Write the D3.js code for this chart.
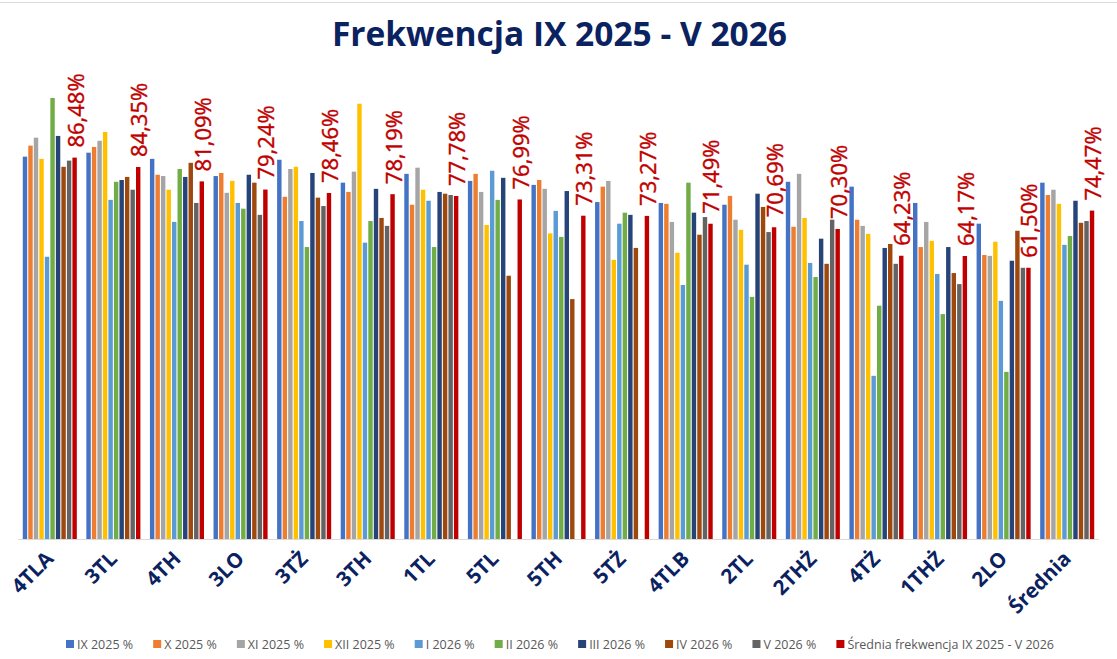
<!DOCTYPE html>
<html>
<head>
<meta charset="utf-8">
<script src="https://cdn.jsdelivr.net/npm/d3@7"></script>
<style>
  body { margin: 0; background: #fff; }
  svg { display: block; }
</style>
</head>
<body>
<div id="content"></div>
<script>
// class names along the x axis
const categories = ["4TLA","3TL","4TH","3LO","3TŻ","3TH","1TL","5TL","5TH","5TŻ","4TLB","2TL","2THŻ","4TŻ","1THŻ","2LO","Średnia"];

const seriesNames = ["IX 2025 %","X 2025 %","XI 2025 %","XII 2025 %","I 2026 %","II 2026 %","III 2026 %","IV 2026 %","V 2026 %","Średnia frekwencja IX 2025 - V 2026"];
const seriesColors = ["#4472C4","#ED7D31","#A5A5A5","#FFC000","#5B9BD5","#70AD47","#264478","#9E480E","#636363","#C00000"];

// monthly attendance (%), one value per class
const ix   = [86.7,87.6,86.2,82.3,86.0,80.8,82.8,81.2,80.3,76.4,76.2,75.8,81.0,79.9,76.2,71.5,80.8];
const x    = [89.2,88.9,82.6,83.0,77.6,78.7,75.8,82.8,81.4,79.9,76.0,77.8,70.8,72.4,66.2,64.4,78.0];
const xi   = [91.0,90.3,82.3,78.5,83.9,83.3,84.2,78.7,79.4,81.2,71.9,72.4,82.8,71.0,71.9,64.2,79.2];
const xii  = [86.2,92.3,79.2,81.2,84.4,98.7,79.2,71.2,69.3,63.3,64.9,70.1,72.8,69.2,67.6,67.4,76.0];
const i26  = [64.0,76.9,71.9,76.2,72.1,67.2,76.7,83.5,74.4,71.5,57.6,62.2,62.6,37.0,60.1,54.0,66.7];
const ii26 = [100.0,81.0,83.9,74.9,66.2,72.1,66.2,76.9,68.5,74.0,80.8,54.9,59.4,52.9,51.0,37.9,68.7];
const iii26= [91.4,81.4,82.1,82.6,83.0,79.4,78.7,81.9,78.9,73.5,74.0,78.3,68.1,66.0,66.2,63.1,76.7];
const iv26 = [84.4,82.1,85.3,80.8,77.4,72.8,78.3,59.7,54.4,66.0,69.0,75.3,62.4,66.9,60.3,69.9,71.7];
const v26  = [85.8,79.2,76.2,73.5,75.5,71.0,78.0,null,null,null,73.0,69.6,72.4,62.4,57.8,61.5,72.1];
const avg  = [86.48,84.35,81.09,79.24,78.46,78.19,77.78,76.99,73.31,73.27,71.49,70.69,70.30,64.23,64.17,61.50,74.47];

const seriesValues = [ix, x, xi, xii, i26, ii26, iii26, iv26, v26, avg];

//////////////////// drawing area
const W = 1117, H = 659;
const plot = { left: 18, right: 1099, top: 98, bottom: 539 };

const x0 = d3.scaleBand()
    .domain(categories)
    .range([plot.left, plot.right])
    .paddingInner(0.15)
    .paddingOuter(0.075);

const x1 = d3.scaleBand()
    .domain(d3.range(seriesNames.length))
    .range([0, x0.bandwidth()])
    .paddingInner(0.2);

const y = d3.scaleLinear()
    .domain([0, 100])
    .range([plot.bottom, plot.top]);

const plFormat = d3.formatLocale({ decimal: ",", thousands: " ", grouping: [3], currency: ["", " zł"] })
    .format(".2f");

const svg = d3.select("#content")
    .append("svg")
    .attr("width", W)
    .attr("height", H);

svg.append("rect")
    .attr("width", W)
    .attr("height", H)
    .attr("fill", "#fff");

// thin frame line on top
svg.append("line")
    .attr("x1", 0).attr("x2", W)
    .attr("y1", 2.5).attr("y2", 2.5)
    .attr("stroke", "#d9d9d9");

svg.append("text")
    .attr("x", W / 2 + 1)
    .attr("y", 46)
    .attr("text-anchor", "middle")
    .attr("font-family", "'Open Sans', sans-serif")
    .attr("font-weight", 700)
    .attr("font-size", 33.5)
    .attr("fill", "#0B2260")
    .text("Frekwencja IX 2025 - V 2026");

// bars
const bars = svg.append("g");
categories.forEach((cat, ci) => {
    const g = bars.append("g")
        .attr("transform", "translate(" + x0(cat) + ",0)");
    const rows = seriesValues.map((arr, si) => ({ si: si, v: arr[ci] }))
        .filter(d => d.v != null);
    g.selectAll("rect").data(rows)
        .enter().append("rect")
            .attr("x", d => x1(d.si))
            .attr("width", x1.bandwidth())
            .attr("y", d => y(d.v))
            .attr("height", d => y(0) - y(d.v))
            .attr("fill", d => seriesColors[d.si]);
});

// value labels above the average bar
const last = seriesNames.length - 1;
svg.append("g").selectAll("text").data(categories)
    .enter().append("text")
        .attr("transform", (d, i) => "translate(" + (x0(d) + x1(last) + x1.bandwidth() / 2) + "," + (y(avg[i]) - 10) + ")rotate(-90)")
        .attr("dominant-baseline", "central")
        .attr("font-family", "'Open Sans', sans-serif")
        .attr("font-size", 22)
        .attr("stroke", "#C00000")
        .attr("stroke-width", 0.4)
        .attr("fill", "#C00000")
        .text((d, i) => plFormat(avg[i]) + "%");

// x axis
svg.append("line")
    .attr("x1", plot.left).attr("x2", plot.right)
    .attr("y1", plot.bottom + 0.5).attr("y2", plot.bottom + 0.5)
    .attr("stroke", "#d9d9d9");

svg.append("g").selectAll("text").data(categories)
    .enter().append("text")
        .attr("transform", d => "translate(" + (x0(d) + x0.bandwidth() / 2 + 5) + ",560)rotate(-45)")
        .attr("text-anchor", "end")
        .attr("font-family", "'Open Sans', sans-serif")
        .attr("font-weight", 700)
        .attr("font-size", 20.5)
        .attr("fill", "#0B2260")
        .text(d => d);

// legend, spread between the picture's left and right ends
const legend = svg.append("g");
const items = legend.selectAll("g").data(seriesNames)
    .enter().append("g");
items.append("rect")
    .attr("width", 8).attr("height", 8)
    .attr("y", -4)
    .attr("fill", (d, i) => seriesColors[i]);
items.append("text")
    .attr("x", 11)
    .attr("dominant-baseline", "central")
    .attr("font-family", "'Open Sans', sans-serif")
    .attr("font-size", 12.5)
    .attr("fill", "#595959")
    .text(d => d);

const widths = [];
items.each(function() { widths.push(this.getBBox().width); });
const legLeft = 66, legRight = 1054;
const gap = (legRight - legLeft - d3.sum(widths)) / (widths.length - 1);
let cx = legLeft;
items.attr("transform", (d, i) => {
    const t = "translate(" + cx + ",644)";
    cx += widths[i] + gap;
    return t;
});
</script>
</body>
</html>
